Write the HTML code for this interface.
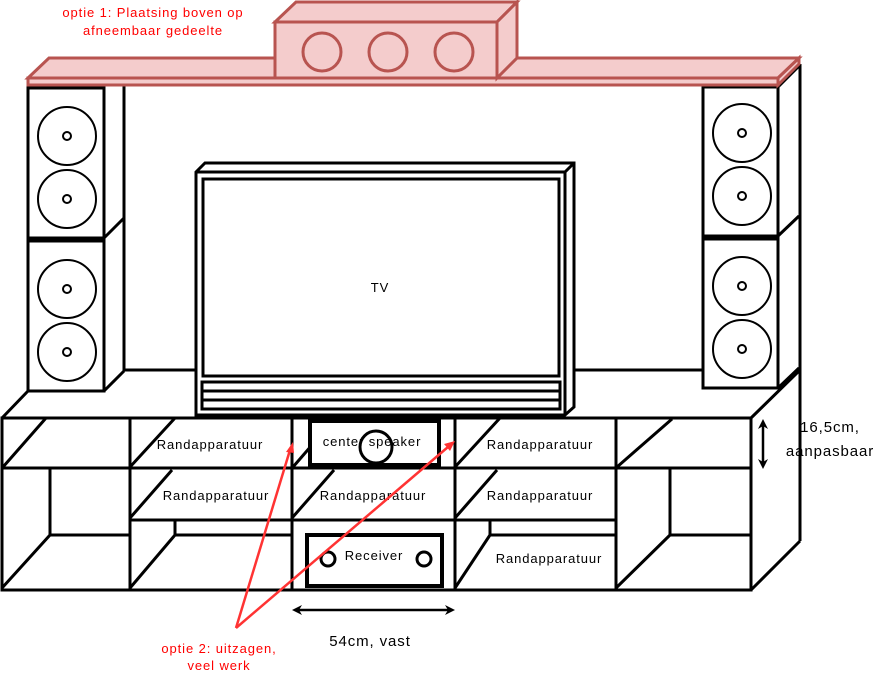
<!DOCTYPE html>
<html><head><style>
html,body{margin:0;padding:0;background:#fff;width:891px;height:687px;overflow:hidden}
svg{display:block}
text{font-family:"Liberation Sans",sans-serif;font-size:13px;letter-spacing:0.9px}
</style></head><body>
<svg width="891" height="687" viewBox="0 0 891 687" xmlns="http://www.w3.org/2000/svg">
<g fill="none" stroke="#000" stroke-width="3">
<line x1="124" y1="86" x2="124" y2="371"/>
<line x1="800" y1="64" x2="800" y2="541"/>
<line x1="124" y1="370" x2="196" y2="370"/>
<line x1="575" y1="370" x2="703" y2="370"/>
<rect x="28" y="88" width="76" height="150" fill="#fff"/>
<rect x="28" y="241" width="76" height="150" fill="#fff"/>
<line x1="28" y1="239.5" x2="104" y2="239.5" stroke-width="4"/>
<line x1="104" y1="238" x2="124" y2="218"/>
<line x1="104" y1="391" x2="124" y2="371"/>
<line x1="2" y1="418" x2="28" y2="391"/>
<rect x="703" y="87" width="75" height="149" fill="#fff"/>
<rect x="703" y="239" width="75" height="149" fill="#fff"/>
<line x1="703" y1="237.5" x2="778" y2="237.5" stroke-width="4"/>
<line x1="778" y1="87" x2="799" y2="66"/>
<line x1="778" y1="236" x2="799" y2="216"/>
<line x1="778" y1="388" x2="799" y2="368"/>
<line x1="751" y1="418" x2="800" y2="370"/>
<line x1="751" y1="590" x2="800" y2="541"/>
</g>
<g fill="none" stroke="#000" stroke-width="2">
<circle cx="67" cy="136" r="29"/><circle cx="67" cy="136" r="4"/>
<circle cx="67" cy="199" r="29"/><circle cx="67" cy="199" r="4"/>
<circle cx="67" cy="289" r="29"/><circle cx="67" cy="289" r="4"/>
<circle cx="67" cy="352" r="29"/><circle cx="67" cy="352" r="4"/>
<circle cx="742" cy="133" r="29"/><circle cx="742" cy="133" r="4"/>
<circle cx="742" cy="196" r="29"/><circle cx="742" cy="196" r="4"/>
<circle cx="742" cy="286" r="29"/><circle cx="742" cy="286" r="4"/>
<circle cx="742" cy="349" r="29"/><circle cx="742" cy="349" r="4"/>
</g>
<g fill="#fff" stroke="#000" stroke-width="3">
<polygon points="196,172 205,163 574,163 574,407 565,415 196,415"/>
<polyline points="196,172 565,172 574,163" fill="none"/>
<line x1="565" y1="172" x2="565" y2="415"/>
<rect x="203" y="179" width="356" height="197"/>
<rect x="202" y="382" width="358" height="27"/>
<line x1="202" y1="391" x2="560" y2="391"/>
<line x1="202" y1="400" x2="560" y2="400"/>
</g>
<text x="380" y="292" text-anchor="middle">TV</text>
<g fill="none" stroke="#000" stroke-width="3">
<rect x="2" y="418" width="749" height="172"/>
<line x1="2" y1="468" x2="751" y2="468"/>
<line x1="130" y1="520" x2="616" y2="520"/>
<line x1="130" y1="418" x2="130" y2="590"/>
<line x1="292" y1="418" x2="292" y2="590"/>
<line x1="455" y1="418" x2="455" y2="590"/>
<line x1="616" y1="418" x2="616" y2="590"/>
<line x1="3" y1="467" x2="46" y2="418"/>
<polyline points="50,468 50,535 130,535"/>
<line x1="2" y1="588" x2="50" y2="535"/>
<line x1="130" y1="467" x2="175" y2="418"/>
<line x1="130" y1="518" x2="172" y2="470"/>
<polyline points="175,520 175,535 292,535"/>
<line x1="130" y1="588" x2="175" y2="535"/>
<line x1="293" y1="467" x2="312" y2="445"/>
<line x1="292" y1="518" x2="334" y2="470"/>
<line x1="455" y1="467" x2="500" y2="418"/>
<line x1="455" y1="518" x2="497" y2="470"/>
<polyline points="490,520 490,535 616,535"/>
<line x1="455" y1="588" x2="490" y2="535"/>
<line x1="617" y1="467" x2="672" y2="419"/>
<polyline points="670,468 670,535 751,535"/>
<line x1="616" y1="588" x2="670" y2="535"/>
<rect x="310" y="421" width="129" height="44" stroke-width="4" fill="#fff"/>
<circle cx="376" cy="447" r="16"/>
<rect x="307" y="535" width="135" height="51" stroke-width="4" fill="#fff"/>
<circle cx="328" cy="559" r="7"/>
<circle cx="424" cy="559" r="7"/>
</g>
<text x="210" y="449" text-anchor="middle">Randapparatuur</text>
<text x="372" y="446" text-anchor="middle">center speaker</text>
<text x="540" y="449" text-anchor="middle">Randapparatuur</text>
<text x="216" y="500" text-anchor="middle">Randapparatuur</text>
<text x="373" y="500" text-anchor="middle">Randapparatuur</text>
<text x="540" y="500" text-anchor="middle">Randapparatuur</text>
<text x="549" y="563" text-anchor="middle">Randapparatuur</text>
<text x="374" y="560" text-anchor="middle">Receiver</text>
<g stroke="#000" stroke-width="2.5" fill="#000">
<line x1="296" y1="610" x2="451" y2="610"/>
<polygon points="292,610 302,605 299,610 302,615" stroke="none"/>
<polygon points="455,610 445,605 448,610 445,615" stroke="none"/>
<line x1="763" y1="423" x2="763" y2="465"/>
<polygon points="763,419 758,429 763,426 768,429" stroke="none"/>
<polygon points="763,469 758,459 763,462 768,459" stroke="none"/>
</g>
<text x="370" y="646" text-anchor="middle" style="font-size:15px">54cm,  vast</text>
<text x="830" y="432" text-anchor="middle" style="font-size:15px">16,5cm,</text>
<text x="830" y="456" text-anchor="middle" style="font-size:15px">aanpasbaar</text>
<g fill="#f4cccc" stroke="#b85450" stroke-width="3">
<polygon points="28,78 49,58 799,58 778,78"/>
<polygon points="28,78 778,78 778,85 28,85"/>
<polygon points="778,78 799,58 799,64 778,85"/>
<polygon points="275,22 296,2 517,2 497,22"/>
<polygon points="497,22 517,2 517,58 497,78"/>
<rect x="275" y="22" width="222" height="56"/>
<circle cx="322" cy="52" r="19" fill="none"/>
<circle cx="388" cy="52" r="19" fill="none"/>
<circle cx="454" cy="52" r="19" fill="none"/>
</g>
<text x="153" y="17" text-anchor="middle" fill="#ff0000">optie 1: Plaatsing boven op</text>
<text x="153" y="35" text-anchor="middle" fill="#ff0000">afneembaar gedeelte</text>
<g stroke="#ff3333" stroke-width="2.5" fill="#ff3333">
<line x1="236" y1="628" x2="290" y2="450"/>
<line x1="236" y1="628" x2="448" y2="447"/>
<polygon points="293,442 286,452 294,453" stroke="none"/>
<polygon points="455,441 444,444 450,451" stroke="none"/>
</g>
<text x="219" y="653" text-anchor="middle" fill="#ff0000">optie 2: uitzagen,</text>
<text x="219" y="670" text-anchor="middle" fill="#ff0000">veel werk</text>
</svg>
</body></html>
